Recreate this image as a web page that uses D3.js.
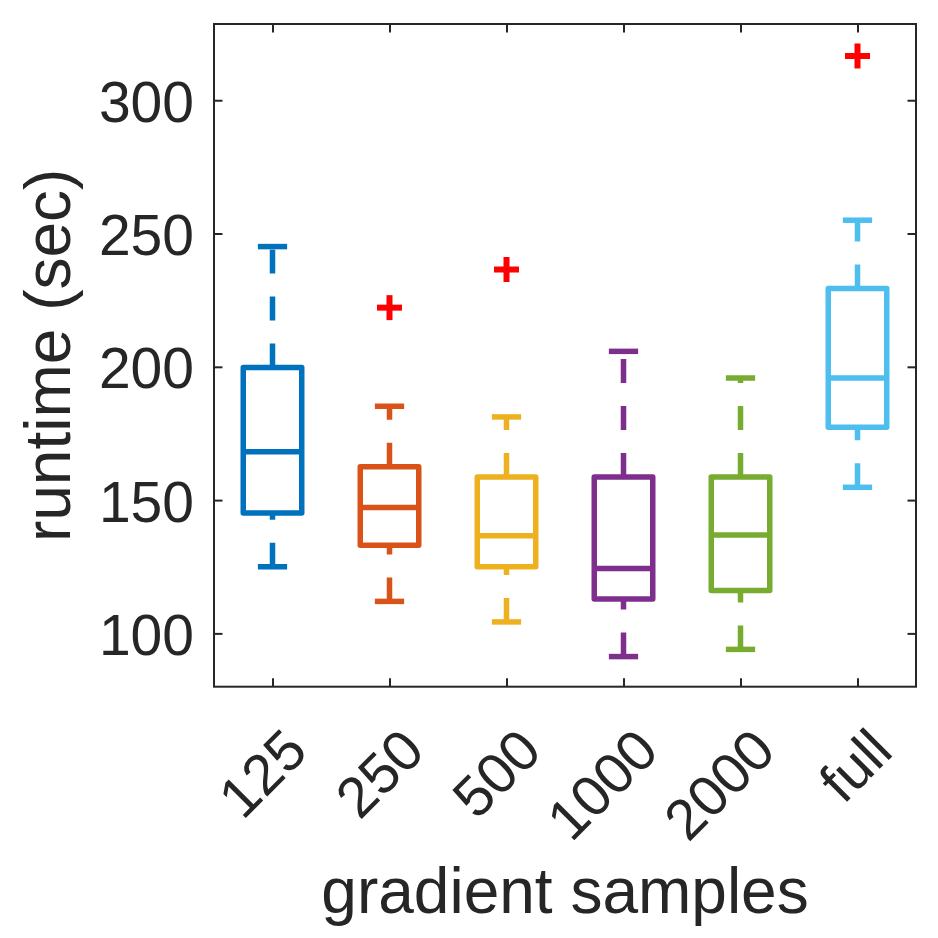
<!DOCTYPE html>
<html>
<head>
<meta charset="utf-8">
<script src="https://cdn.jsdelivr.net/npm/d3@7/dist/d3.min.js"></script>
<style>
  html, body { margin: 0; padding: 0; background: #fff; }
  svg { display: block; }
  text { font-family: "Liberation Sans", Arial, Helvetica, sans-serif; fill: #262626; }
</style>
</head>
<body>
<svg id="chart" width="938" height="938"></svg>
<script>
// ---- data ----
const categories = ["125", "250", "500", "1000", "2000", "full"];
const lowerWhisker = [125.0, 112.0, 104.3, 91.3, 94.0, 154.8];
const q1 = [145.2, 133.1, 125.0, 112.9, 116.1, 177.3];
const medians = [168.1, 147.2, 136.6, 124.3, 136.9, 195.8];
const q3 = [199.7, 162.5, 158.7, 158.7, 158.7, 229.4];
const upperWhisker = [245.1, 185.2, 181.2, 205.8, 195.8, 255.0];
const outliers = [[], [222.2], [236.5], [], [], [316.6]];
const yTicks = [100, 150, 200, 250, 300];
const colors = ["#0072BD", "#D95319", "#EDB120", "#7E2F8E", "#77AC30", "#4DBEEE"];

// ---- layout ----
const L = 214, R = 916, T = 24, B = 686.7;
const svg = d3.select("#chart");

const x = d3.scaleLinear().domain([0.5, categories.length + 0.5]).range([L, R]);
const y = d3.scaleLinear().domain([80, 328.6]).range([B, T]);
const step = x(2) - x(1);
const boxW = step * 0.5;
const capW = boxW * 0.5;
const lw = 5.5;

const rows = categories.map((c, i) => ({
  c, i, lo: lowerWhisker[i], q1: q1[i], med: medians[i], q3: q3[i], hi: upperWhisker[i],
  out: outliers[i], color: colors[i]
}));

const g = svg.append("g");

// boxes
const bx = g.selectAll("g.box").data(rows).enter().append("g").attr("class", "box");

// whiskers: drawn from lower value upward (dash pattern starts at lower end)
bx.append("line")
  .attr("x1", d => x(d.i + 1)).attr("x2", d => x(d.i + 1))
  .attr("y1", d => y(d.q3)).attr("y2", d => y(d.hi))
  .attr("stroke", d => d.color).attr("stroke-width", lw)
  .attr("stroke-dasharray", "24,23");
bx.append("line")
  .attr("x1", d => x(d.i + 1)).attr("x2", d => x(d.i + 1))
  .attr("y1", d => y(d.lo)).attr("y2", d => y(d.q1))
  .attr("stroke", d => d.color).attr("stroke-width", lw)
  .attr("stroke-dasharray", "24,23");
// caps
bx.append("line")
  .attr("x1", d => x(d.i + 1) - capW / 2).attr("x2", d => x(d.i + 1) + capW / 2)
  .attr("y1", d => y(d.hi)).attr("y2", d => y(d.hi))
  .attr("stroke", d => d.color).attr("stroke-width", lw);
bx.append("line")
  .attr("x1", d => x(d.i + 1) - capW / 2).attr("x2", d => x(d.i + 1) + capW / 2)
  .attr("y1", d => y(d.lo)).attr("y2", d => y(d.lo))
  .attr("stroke", d => d.color).attr("stroke-width", lw);
// box
bx.append("rect")
  .attr("x", d => x(d.i + 1) - boxW / 2)
  .attr("width", boxW)
  .attr("y", d => y(d.q3))
  .attr("height", d => y(d.q1) - y(d.q3))
  .attr("fill", "none")
  .attr("stroke", d => d.color).attr("stroke-width", lw)
  .attr("stroke-linejoin", "round");
// median
bx.append("line")
  .attr("x1", d => x(d.i + 1) - boxW / 2).attr("x2", d => x(d.i + 1) + boxW / 2)
  .attr("y1", d => y(d.med)).attr("y2", d => y(d.med))
  .attr("stroke", d => d.color).attr("stroke-width", lw);

// outliers (+)
const outPts = rows.flatMap(d => d.out.map(v => ({ i: d.i, v })));
const arm = 12.5;
const og = g.selectAll("g.out").data(outPts).enter().append("g").attr("class", "out")
  .attr("transform", d => `translate(${x(d.i + 1)},${y(d.v)})`);
og.append("line").attr("x1", -arm).attr("x2", arm).attr("y1", 0).attr("y2", 0)
  .attr("stroke", "#FF0000").attr("stroke-width", 6);
og.append("line").attr("x1", 0).attr("x2", 0).attr("y1", -arm).attr("y2", arm)
  .attr("stroke", "#FF0000").attr("stroke-width", 6);

// ---- axes ----
const axisColor = "#262626";
const tickLen = 8.5;
const catTicks = categories.map((c, i) => i + 1);

// left axis
const leftAxis = d3.axisLeft(y).tickValues(yTicks).tickSizeInner(-tickLen).tickSizeOuter(0).tickPadding(20);
const la = svg.append("g").attr("transform", `translate(${L},0)`).call(leftAxis);
la.select(".domain").remove();
la.selectAll(".tick line").attr("stroke", axisColor).attr("stroke-width", 2);
la.selectAll(".tick text")
  .attr("font-size", 57).attr("fill", axisColor)
  .attr("dy", null).attr("dominant-baseline", null)
  .attr("y", 21).attr("x", -20);

// right axis ticks
const rightAxis = d3.axisRight(y).tickValues(yTicks).tickSizeInner(-tickLen).tickSizeOuter(0).tickFormat("");
const ra = svg.append("g").attr("transform", `translate(${R},0)`).call(rightAxis);
ra.select(".domain").remove();
ra.selectAll(".tick line").attr("stroke", axisColor).attr("stroke-width", 2);

// bottom axis
const bottomAxis = d3.axisBottom(x).tickValues(catTicks).tickSizeInner(-tickLen).tickSizeOuter(0)
  .tickFormat((d) => categories[d - 1]);
const ba = svg.append("g").attr("transform", `translate(0,${B})`).call(bottomAxis);
ba.select(".domain").remove();
ba.selectAll(".tick line").attr("stroke", axisColor).attr("stroke-width", 2);
ba.selectAll(".tick text")
  .attr("font-size", 57).attr("fill", axisColor)
  .attr("text-anchor", "end")
  .attr("dy", null)
  .attr("y", null)
  .attr("transform", "translate(37,67) rotate(-45)");

// top axis ticks
const topAxis = d3.axisTop(x).tickValues(catTicks).tickSizeInner(-tickLen).tickSizeOuter(0).tickFormat("");
const ta = svg.append("g").attr("transform", `translate(0,${T})`).call(topAxis);
ta.select(".domain").remove();
ta.selectAll(".tick line").attr("stroke", axisColor).attr("stroke-width", 2);

// frame
svg.append("rect")
  .attr("x", L).attr("y", T).attr("width", R - L).attr("height", B - T)
  .attr("fill", "none").attr("stroke", axisColor).attr("stroke-width", 2);

// axis labels
svg.append("text")
  .attr("x", (L + R) / 2).attr("y", 913)
  .attr("text-anchor", "middle").attr("font-size", 64).attr("fill", axisColor)
  .text("gradient samples");
svg.append("text")
  .attr("transform", `translate(70,${(T + B) / 2}) rotate(-90)`)
  .attr("text-anchor", "middle").attr("font-size", 64).attr("fill", axisColor)
  .text("runtime (sec)");
</script>
</body>
</html>
